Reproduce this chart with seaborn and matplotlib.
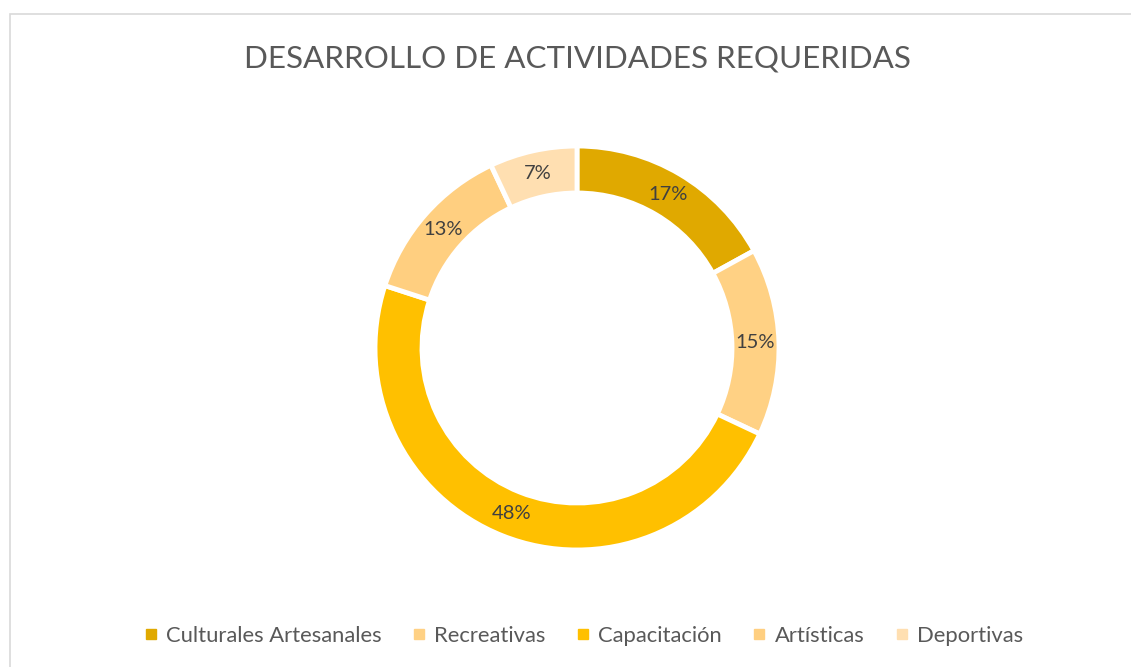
import matplotlib
matplotlib.use("Agg")
import matplotlib.pyplot as plt
from matplotlib.lines import Line2D
from matplotlib.patches import Rectangle
import numpy as np
import seaborn as sns

# Data
categories = ["Culturales Artesanales", "Recreativas", "Capacitación", "Artísticas", "Deportivas"]
values = [17, 15, 48, 13, 7]
colors = ["#E0A900", "#FFD184", "#FFC000", "#FFCF80", "#FFDFB1"]
title = "DESARROLLO DE ACTIVIDADES REQUERIDAS"

sns.set_theme(style="white")
plt.rcParams["font.family"] = ["Lato", "DejaVu Sans"]

W, H = 1131, 667
fig = plt.figure(figsize=(W / 100, H / 100), dpi=100)
fig.patch.set_facecolor("white")

# chart frame
fig.patches.append(Rectangle((9.5 / W, -0.1), 1.2, 1 - 13.5 / H + 0.1,
                             transform=fig.transFigure, fill=False,
                             edgecolor="#D9D9D9", linewidth=1.2))

cx, cy, half = 577, 348, 210
ax = fig.add_axes([(cx - half) / W, (H - cy - half) / H, 2 * half / W, 2 * half / H])

r_out = 202 / half
width = 47 / half
wedges, _ = ax.pie(values, colors=colors, radius=r_out, startangle=90, counterclock=False,
                   wedgeprops=dict(width=width, edgecolor="white", linewidth=3.5))
ax.set_xlim(-1, 1)
ax.set_ylim(-1, 1)
ax.set_aspect("equal")
ax.axis("off")

total = sum(values)
ang = 90.0
r_lab = r_out - width / 2
for v in values:
    mid = ang - v / total * 360 / 2
    ang -= v / total * 360
    x = r_lab * np.cos(np.deg2rad(mid))
    y = r_lab * np.sin(np.deg2rad(mid))
    ax.text(x, y, f"{v}%", ha="center", va="center", fontsize=14.5, color="#404040")

fig.text(577 / W, 1 - 58 / H, title, ha="center", va="center", fontsize=22.6, color="#595959")

handles = [Line2D([], [], marker="s", linestyle="none", markersize=7,
                  markerfacecolor=c, markeredgecolor=c) for c in colors]
fig.legend(handles, categories, loc="center", bbox_to_anchor=(583 / W, 1 - 636 / H),
           ncol=5, frameon=False, fontsize=15.8, labelcolor="#595959",
           handlelength=0.7, handletextpad=0.35, columnspacing=1.35)

fig.savefig("out.png", dpi=100)
